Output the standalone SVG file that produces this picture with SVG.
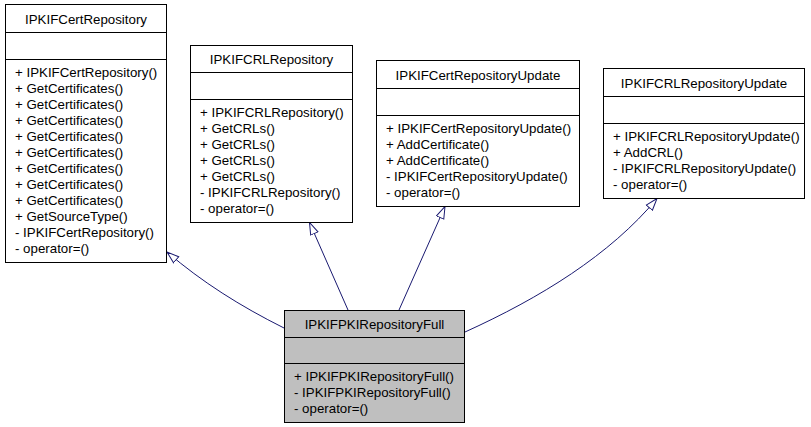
<svg xmlns="http://www.w3.org/2000/svg" width="811" height="427" viewBox="0 0 811 427">
<style>
.box{fill:#ffffff;stroke:#000000;stroke-width:1}
.main{fill:#bfbfbf;stroke:#000000;stroke-width:1}
.sep{stroke:#000000;stroke-width:1}
text{font-family:"Liberation Sans",Arial,Helvetica,sans-serif;font-size:13.3px;fill:#000000}
.t{text-anchor:middle}
.edge{fill:none;stroke:#191970;stroke-width:1;marker-end:url(#open)}
</style>
<defs>
<marker id="open" markerUnits="userSpaceOnUse" markerWidth="14" markerHeight="10" viewBox="0 0 14 10" refX="12.5" refY="5" orient="auto">
<path d="M0.5,1 L12.5,5 L0.5,9 Z" fill="#ffffff" stroke="#191970" stroke-width="1"/>
</marker>
</defs>
<g id="connectors">
<path class="edge" d="M284,328 C240,306 202,282 167,252"/>
<path class="edge" d="M348,310 L309.5,222.5"/>
<path class="edge" d="M399,310 L445,206.5"/>
<path class="edge" d="M465,332 C540,298 610,255 657,198.5"/>
</g>
<g id="IPKIFCertRepository">
<rect class="box" x="5.5" y="4.5" width="161" height="258"/>
<line class="sep" x1="5.5" y1="32.5" x2="166.5" y2="32.5"/>
<line class="sep" x1="5.5" y1="59.5" x2="166.5" y2="59.5"/>
<text class="t" x="86" y="24">IPKIFCertRepository</text>
<text x="15" y="77">+ IPKIFCertRepository()</text>
<text x="15" y="93">+ GetCertificates()</text>
<text x="15" y="109">+ GetCertificates()</text>
<text x="15" y="125">+ GetCertificates()</text>
<text x="15" y="141">+ GetCertificates()</text>
<text x="15" y="157">+ GetCertificates()</text>
<text x="15" y="173">+ GetCertificates()</text>
<text x="15" y="189">+ GetCertificates()</text>
<text x="15" y="205">+ GetCertificates()</text>
<text x="15" y="221">+ GetSourceType()</text>
<text x="15" y="237">- IPKIFCertRepository()</text>
<text x="15" y="253">- operator=()</text>
</g>
<g id="IPKIFCRLRepository">
<rect class="box" x="190.5" y="45.5" width="162" height="177"/>
<line class="sep" x1="190.5" y1="72.5" x2="352.5" y2="72.5"/>
<line class="sep" x1="190.5" y1="99.5" x2="352.5" y2="99.5"/>
<text class="t" x="271.5" y="64">IPKIFCRLRepository</text>
<text x="200" y="117">+ IPKIFCRLRepository()</text>
<text x="200" y="133">+ GetCRLs()</text>
<text x="200" y="149">+ GetCRLs()</text>
<text x="200" y="165">+ GetCRLs()</text>
<text x="200" y="181">+ GetCRLs()</text>
<text x="200" y="197">- IPKIFCRLRepository()</text>
<text x="200" y="213">- operator=()</text>
</g>
<g id="IPKIFCertRepositoryUpdate">
<rect class="box" x="376.5" y="60.5" width="203" height="146"/>
<line class="sep" x1="376.5" y1="88.5" x2="579.5" y2="88.5"/>
<line class="sep" x1="376.5" y1="115.5" x2="579.5" y2="115.5"/>
<text class="t" x="478" y="80">IPKIFCertRepositoryUpdate</text>
<text x="386" y="133">+ IPKIFCertRepositoryUpdate()</text>
<text x="386" y="149">+ AddCertificate()</text>
<text x="386" y="165">+ AddCertificate()</text>
<text x="386" y="181">- IPKIFCertRepositoryUpdate()</text>
<text x="386" y="197">- operator=()</text>
</g>
<g id="IPKIFCRLRepositoryUpdate">
<rect class="box" x="603.5" y="68.5" width="201" height="130"/>
<line class="sep" x1="603.5" y1="96.5" x2="804.5" y2="96.5"/>
<line class="sep" x1="603.5" y1="123.5" x2="804.5" y2="123.5"/>
<text class="t" x="704" y="88">IPKIFCRLRepositoryUpdate</text>
<text x="613" y="141">+ IPKIFCRLRepositoryUpdate()</text>
<text x="613" y="157">+ AddCRL()</text>
<text x="613" y="173">- IPKIFCRLRepositoryUpdate()</text>
<text x="613" y="189">- operator=()</text>
</g>
<g id="IPKIFPKIRepositoryFull">
<rect class="main" x="284.5" y="310.5" width="180" height="112"/>
<line class="sep" x1="284.5" y1="337.5" x2="464.5" y2="337.5"/>
<line class="sep" x1="284.5" y1="363.5" x2="464.5" y2="363.5"/>
<text class="t" x="374.5" y="329">IPKIFPKIRepositoryFull</text>
<text x="294" y="381">+ IPKIFPKIRepositoryFull()</text>
<text x="294" y="397">- IPKIFPKIRepositoryFull()</text>
<text x="294" y="413">- operator=()</text>
</g>
</svg>
